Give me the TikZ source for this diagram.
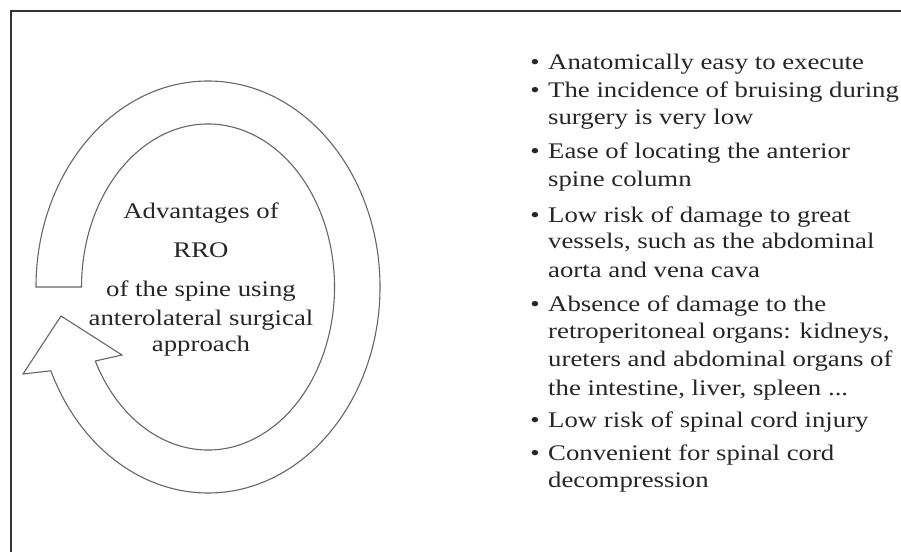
\documentclass[tikz,border=0pt]{standalone}
\usepackage{fontspec}
\setmainfont{Liberation Serif}
\usepackage{graphicx}
\newcommand{\sx}[1]{\scalebox{1.2}[1]{#1}}
\begin{document}
\begin{tikzpicture}[x=1pt,y=1pt,
  band/.style={draw=black!60, line width=1.1pt, fill=white, line join=miter},
  frameline/.style={draw=black!80, line width=1.8pt, line join=miter},
  txt/.style={inner sep=0pt, anchor=base, font=\fontsize{22.3}{27}\selectfont, text=black!85},
  li/.style={txt, anchor=base west},
  bul/.style={txt, anchor=base}]
\useasboundingbox (0,0) rectangle (901,552);
% frame
\coordinate (tl) at (11,541);
\coordinate (tr) at (901,541);
\coordinate (bl) at (11,0);
\draw[frameline] (tr) -- (tl) -- (bl);
% circular arrow
\coordinate (c) at (208,265);
\coordinate (o1) at ([shift={(180:172 and 206)}]c);
\coordinate (hl) at (23,178);
\coordinate (ht) at (61,236);
\coordinate (hr) at (122,197);
\coordinate (i1) at ([shift={(-153:126.5 and 163)}]c);
\draw[band] (o1) arc[start angle=180, end angle=-156, x radius=172pt, y radius=206pt]
  -- (hl) -- (ht) -- (hr) -- (i1)
  arc[start angle=-153, end angle=180, x radius=126.5pt, y radius=163pt] -- cycle;
% centre text
\node[txt] (t1) at (201,333) {\sx{Advantages of}};
\node[txt] (t2) at (201,294) {\sx{RRO}};
\node[txt] (t3) at (201,255) {\sx{of the spine using}};
\node[txt] (t4) at (201,227) {\sx{anterolateral surgical}};
\node[txt] (t5) at (201,201) {\sx{approach}};
% bullets
\node[bul] (b1) at (535,482) {\sx{•}};
\node[bul] (b2) at (535,454) {\sx{•}};
\node[bul] (b3) at (535,393) {\sx{•}};
\node[bul] (b4) at (535,329) {\sx{•}};
\node[bul] (b5) at (535,241) {\sx{•}};
\node[bul] (b6) at (535,125) {\sx{•}};
\node[bul] (b7) at (535,92) {\sx{•}};
% list lines
\node[li] (l1) at (548,482) {\sx{Anatomically easy to execute}};
\node[li] (l2) at (548,454) {\sx{The incidence of bruising during}};
\node[li] (l3) at (548,427) {\sx{surgery is very low}};
\node[li] (l4) at (548,393) {\sx{Ease of locating the anterior}};
\node[li] (l5) at (548,365) {\sx{spine column}};
\node[li] (l6) at (548,329) {\sx{Low risk of damage to great}};
\node[li] (l7) at (548,303) {\sx{vessels, such as the abdominal}};
\node[li] (l8) at (548,275) {\sx{aorta and vena cava}};
\node[li] (l9) at (548,241) {\sx{Absence of damage to the}};
\node[li] (l10) at (548,214) {\sx{retroperitoneal organs: kidneys,}};
\node[li] (l11) at (548,186) {\sx{ureters and abdominal organs of}};
\node[li] (l12) at (548,157) {\sx{the intestine, liver, spleen ...}};
\node[li] (l13) at (548,125) {\sx{Low risk of spinal cord injury}};
\node[li] (l14) at (548,92) {\sx{Convenient for spinal cord}};
\node[li] (l15) at (548,65) {\sx{decompression}};
\end{tikzpicture}
\end{document}
